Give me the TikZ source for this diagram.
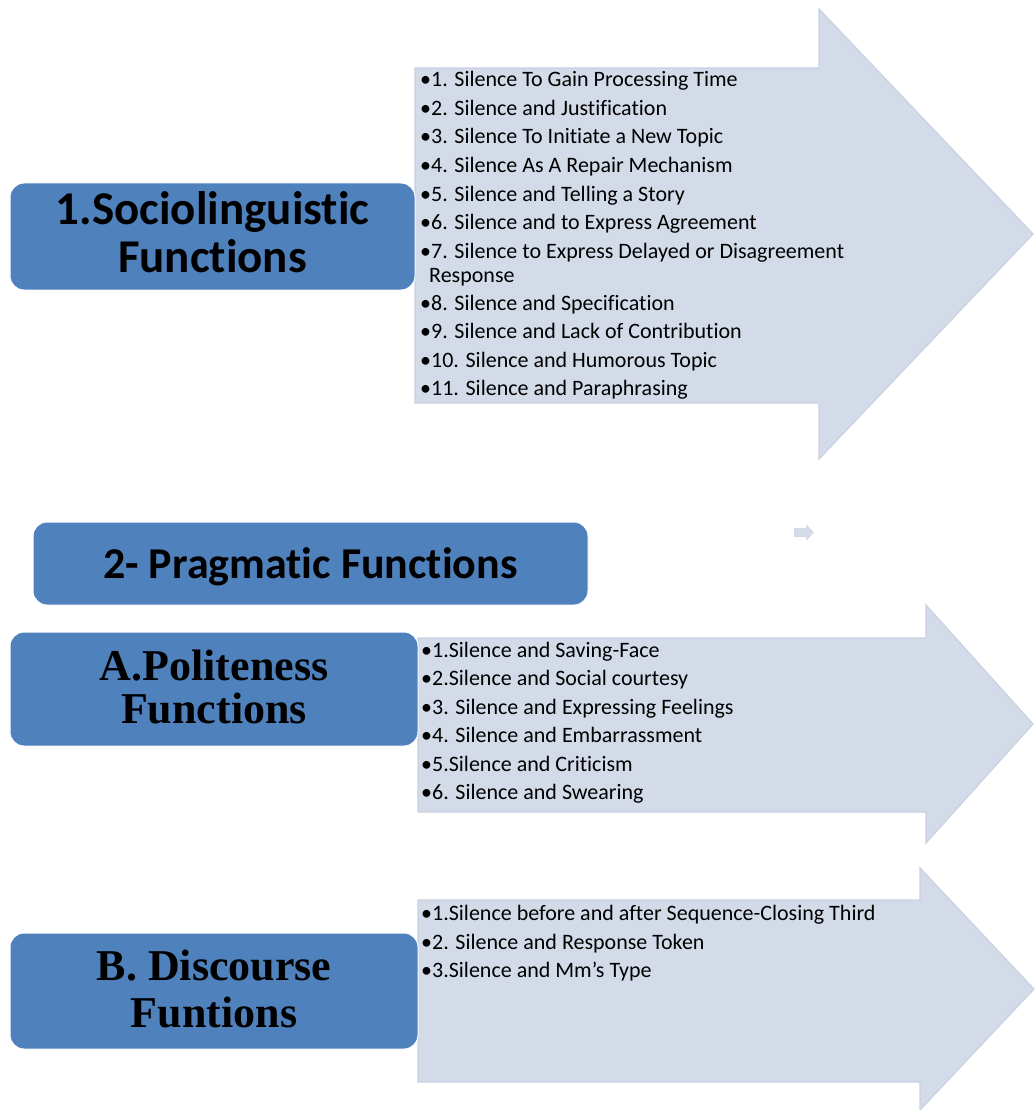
\documentclass[tikz,border=0pt]{standalone}
\usepackage{fontspec}
\setmainfont{Carlito}[Ligatures=NoCommon]
\newfontfamily\headserif{Liberation Serif}
\definecolor{boxblue}{HTML}{4F81BD}
\definecolor{arrowfill}{HTML}{D4DBE8}
\definecolor{arrowedge}{HTML}{C8D1E3}
\tikzset{
  headbox/.style={rounded corners=14pt, fill=boxblue, draw=white, line width=1pt, inner sep=0pt},
  bigarrow/.style={fill=arrowfill, draw=arrowedge, line width=1.2pt, line join=miter},
  headsans/.style={anchor=base, inner sep=0pt, font=\fontsize{47}{48}\selectfont\bfseries},
  headsanssm/.style={anchor=base, inner sep=0pt, font=\fontsize{44}{46}\selectfont\bfseries},
  headrom/.style={anchor=base, inner sep=0pt, font=\fontsize{44}{46}\selectfont\headserif\bfseries},
  itemline/.style={anchor=base west, inner sep=0pt, font=\fontsize{22}{24}\selectfont},
}
\begin{document}
\begin{tikzpicture}[x=1pt,y=-1pt]
\useasboundingbox (0,0) rectangle (1034,1110);

% block arrows carrying the item lists
\draw[bigarrow] (415,68) -- (819,68) -- (819,9) -- (1033,234) -- (819,459) -- (819,403) -- (415,403) -- cycle;
\draw[bigarrow] (418,638) -- (926,638) -- (926,605) -- (1033,724) -- (926,843) -- (926,812) -- (418,812) -- cycle;
\draw[bigarrow] (418,900) -- (920,900) -- (920,868) -- (1034,989) -- (920,1110) -- (920,1082) -- (418,1082) -- cycle;

% small arrow marker
\fill[arrowfill] (794,528) -- (806,528) -- (806,524) -- (814,532.5) -- (806,541) -- (806,537) -- (794,537) -- cycle;

% heading boxes
\node[headbox, minimum width=405pt, minimum height=107pt] (socio) at (212.5,236.5) {};
\node[headsans] (socioA) at (212.5,224) {1.Sociolinguistic};
\node[headsans] (socioB) at (212.5,272) {Functions};

\node[headbox, minimum width=555pt, minimum height=83pt] (prag) at (310.5,563.5) {};
\node[headsanssm] (pragT) at (310.5,578) {2- Pragmatic Functions};

\node[headbox, minimum width=408pt, minimum height=114pt] (polite) at (214,689) {};
\node[headrom] (politeA) at (214,680) {A.Politeness};
\node[headrom] (politeB) at (214,723) {Functions};

\node[headbox, minimum width=408pt, minimum height=116pt] (disc) at (214,991) {};
\node[headrom] (discA) at (214,980) {B. Discourse};
\node[headrom] (discB) at (214,1027) {Funtions};

% sociolinguistic items
\foreach \t/\y [count=\i] in {
  {•1. Silence To Gain Processing Time}/87,
  {•2. Silence and Justification}/115.5,
  {•3. Silence To Initiate a New Topic}/144,
  {•4. Silence As A Repair Mechanism}/172.5,
  {•5. Silence and Telling a Story}/201,
  {•6. Silence and to Express Agreement}/229.5,
  {•7. Silence to Express Delayed or Disagreement}/258,
  {\hspace*{9pt}Response}/282,
  {•8. Silence and Specification}/310,
  {•9. Silence and Lack of Contribution}/338.5,
  {•10. Silence and Humorous Topic}/367,
  {•11. Silence and Paraphrasing}/395.5}
  \node[itemline] (si\i) at (420,\y) {\t};

% politeness items
\foreach \t/\y [count=\i] in {
  {•1.Silence and Saving-Face}/657,
  {•2.Silence and Social courtesy}/685.5,
  {•3. Silence and Expressing Feelings}/714,
  {•4. Silence and Embarrassment}/742.5,
  {•5.Silence and Criticism}/771,
  {•6. Silence and Swearing}/799.5}
  \node[itemline] (pi\i) at (421,\y) {\t};

% discourse items
\foreach \t/\y [count=\i] in {
  {•1.Silence before and after Sequence-Closing Third}/920,
  {•2. Silence and Response Token}/949,
  {•3.Silence and Mm’s Type}/977}
  \node[itemline] (di\i) at (421,\y) {\t};
\end{tikzpicture}
\end{document}
